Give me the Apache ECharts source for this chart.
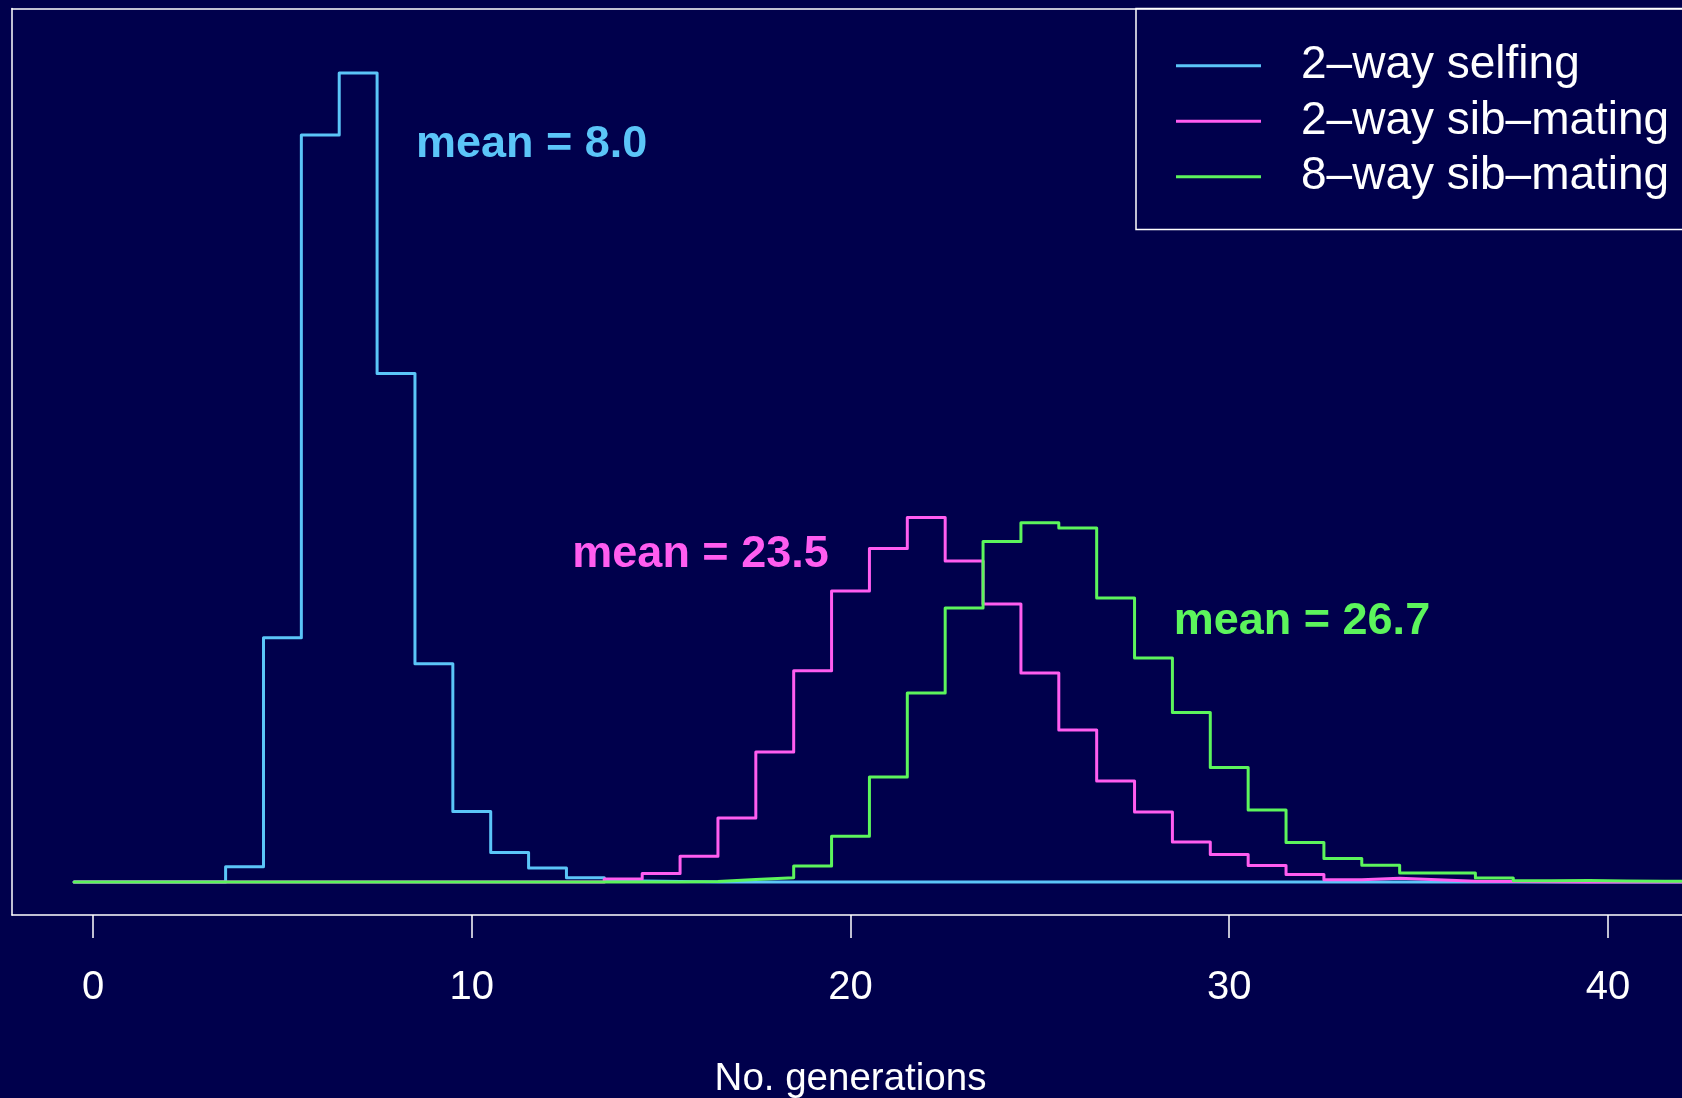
<!DOCTYPE html>
<html>
<head>
<meta charset="utf-8">
<script src="https://cdn.jsdelivr.net/npm/echarts@6/dist/echarts.min.js"></script>
<style>
  html, body { margin: 0; padding: 0; background: #00004c; }
  #chart { width: 1682px; height: 1098px; }
</style>
</head>
<body>
<div id="chart"></div>
<script>
// bins are 1 generation wide, centred on the integers
const generations = [0, 1, 2, 3, 4, 5, 6, 7, 8, 9, 10, 11, 12, 13, 14, 15, 16, 17, 18, 19, 20,
  21, 22, 23, 24, 25, 26, 27, 28, 29, 30, 31, 32, 33, 34, 35, 36, 37, 38, 39, 40, 41, 42]

// densities
const selfing2 = [0, 0, 0, 0, 0.0057, 0.0917, 0.2806, 0.3039, 0.1910, 0.0820, 0.0265,
  0.0111, 0.0053, 0.0016, 0.0004, 0.0002, 0, 0, 0, 0, 0, 0, 0, 0, 0, 0, 0, 0, 0, 0, 0,
  0, 0, 0, 0, 0, 0, 0, 0, 0, 0, 0, 0]
const sibMating2 = [0, 0, 0, 0, 0, 0, 0, 0, 0, 0, 0, 0, 0, 0, 0.0011, 0.0032, 0.0097,
  0.0240, 0.0488, 0.0793, 0.1093, 0.1253, 0.1369, 0.1206, 0.1044, 0.0785, 0.0571, 0.0379,
  0.0263, 0.0150, 0.0103, 0.0062, 0.0028, 0.0008, 0.0014, 0.0008, 0.0003, 0.0002, 0.0001,
  0, 0, 0, 0]
const sibMating8 = [0, 0, 0, 0, 0, 0, 0, 0, 0, 0, 0, 0, 0, 0, 0, 0, 0.0002, 0.0009, 0.0016,
  0.0060, 0.0172, 0.0394, 0.0710, 0.1029, 0.1279, 0.1349, 0.1330, 0.1067, 0.0841, 0.0637,
  0.0430, 0.0270, 0.0148, 0.0088, 0.0063, 0.0034, 0.0034, 0.0015, 0.0005, 0.0006, 0.0004,
  0.0003, 0.0003]

const seriesNames = ['2\u2013way selfing', '2\u2013way sib\u2013mating', '8\u2013way sib\u2013mating']
const seriesColors = ['#5bc5f8', '#ff5df0', '#5cf55c']

const meanLabels = ['mean = 8.0', 'mean = 23.5', 'mean = 26.7']
const meanX = [11.58, 16.04, 31.92]
const meanY = [0.2771, 0.1231, 0.0978]

const xTicks = [0, 10, 20, 30, 40]

const FONT = 'Liberation Sans, Arial, sans-serif'

// outline of a histogram: one point at each bin's left edge, plus the last right edge
function toSteps(values) {
  let pts = generations.map((g, i) => [g - 0.5, values[i]])
  let last = generations.length - 1
  pts.push([generations[last] + 0.5, values[last]])
  return pts
}

function makeSeries(idx, values) {
  return {
    name: seriesNames[idx],
    type: 'line',
    step: 'end',
    data: toSteps(values),
    symbol: 'none',
    silent: true,
    animation: false,
    lineStyle: {
      color: seriesColors[idx],
      width: 3,
      cap: 'round',
      join: 'round'
    },
    itemStyle: {
      color: seriesColors[idx]
    },
    markPoint: {
      symbol: 'circle',
      symbolSize: 1,
      itemStyle: { color: 'rgba(0,0,0,0)' },
      animation: false,
      silent: true,
      label: {
        show: true,
        position: 'inside',
        formatter: meanLabels[idx],
        color: seriesColors[idx],
        fontFamily: FONT,
        fontWeight: 'bold',
        fontSize: 45
      },
      data: [{ coord: [meanX[idx], meanY[idx]], value: 0 }]
    }
  }
}

let option = {
  backgroundColor: '#00004c',
  animation: false,
  grid: {
    left: 12,
    right: -7,
    top: 8.5,
    bottom: 183,
    containLabel: false,
    outerBoundsMode: 'none'
  },
  legend: {
    orient: 'vertical',
    left: 1136,
    top: 8.5,
    padding: [29.5, 80, 25, 40],
    itemGap: 0,
    itemWidth: 85,
    itemHeight: 3,
    icon: 'rect',
    borderColor: '#ffffff',
    borderWidth: 1.5,
    selectedMode: false,
    data: seriesNames,
    textStyle: {
      color: '#ffffff',
      fontFamily: FONT,
      fontSize: 46,
      lineHeight: 49.5,
      padding: [6, 0, 0, 35]
    }
  },
  xAxis: [
    {
      type: 'value',
      position: 'bottom',
      min: -2.14,
      max: 42.14,
      name: 'No. generations',
      nameLocation: 'middle',
      nameGap: 145,
      nameTextStyle: {
        color: '#ffffff',
        fontFamily: FONT,
        fontSize: 38.5
      },
      axisLine: {
        show: true,
        onZero: false,
        lineStyle: { color: '#ffffff', width: 1.5 }
      },
      axisTick: {
        show: true,
        length: 23,
        customValues: xTicks,
        lineStyle: { color: '#ffffff', width: 1.5 }
      },
      axisLabel: {
        show: true,
        margin: 53,
        customValues: xTicks,
        color: '#ffffff',
        fontFamily: FONT,
        fontSize: 40
      },
      splitLine: { show: false }
    },
    {
      // top edge of the plot box
      type: 'value',
      position: 'top',
      min: -2.14,
      max: 42.14,
      axisLine: {
        show: true,
        onZero: false,
        lineStyle: { color: '#ffffff', width: 1.5 }
      },
      axisTick: { show: false },
      axisLabel: { show: false },
      splitLine: { show: false }
    }
  ],
  yAxis: {
    type: 'value',
    min: -0.0124,
    max: 0.3281,
    axisLine: {
      show: true,
      onZero: false,
      lineStyle: { color: '#ffffff', width: 1.5 }
    },
    axisTick: { show: false },
    axisLabel: { show: false },
    splitLine: { show: false }
  },
  series: [
    makeSeries(0, selfing2),
    makeSeries(1, sibMating2),
    makeSeries(2, sibMating8)
  ]
}

let chart = echarts.init(document.getElementById('chart'))
chart.setOption(option)
</script>
</body>
</html>
